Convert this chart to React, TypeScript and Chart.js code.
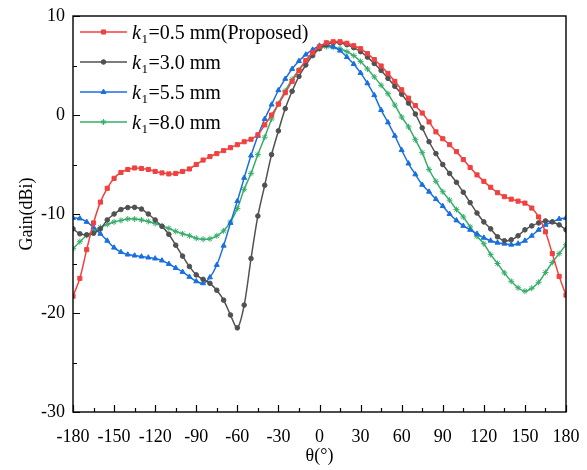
import React, { useEffect, useRef } from 'react';
import { Chart, registerables } from 'chart.js';
import { drawPoint } from 'chart.js/helpers';

Chart.register(...registerables);

const FONT = '"Liberation Serif", "Times New Roman", serif';

const ANGLES = [
  -180, -175, -170, -165, -160, -155, -150, -145, -140, -135,
  -130, -125, -120, -115, -110, -105, -100, -95, -90, -85,
  -80, -75, -70, -65, -60, -55, -50, -45, -40, -35,
  -30, -25, -20, -15, -10, -5, 0, 5, 10, 15,
  20, 25, 30, 35, 40, 45, 50, 55, 60, 65,
  70, 75, 80, 85, 90, 95, 100, 105, 110, 115,
  120, 125, 130, 135, 140, 145, 150, 155, 160, 165,
  170, 175, 180,
];

const GAIN_K05 = [
  -18.3, -16.5, -13.6, -10.9, -8.8, -7.4, -6.4, -5.8, -5.5, -5.35,
  -5.4, -5.5, -5.7, -5.85, -5.95, -5.9, -5.7, -5.45, -5.0, -4.55,
  -4.2, -3.9, -3.6, -3.3, -3.0, -2.7, -2.45, -2.0, -1.0, 0.0,
  1.1, 2.25, 3.4, 4.5, 5.5, 6.3, 6.9, 7.3, 7.4, 7.4,
  7.25, 7.0, 6.7, 6.2, 5.6, 4.95, 4.2, 3.4, 2.55, 1.7,
  0.95, 0.2, -0.7, -1.7, -2.4, -3.0, -3.7, -4.5, -5.3, -6.05,
  -6.7, -7.3, -7.85, -8.25, -8.5, -8.7, -8.9, -9.4, -10.3, -11.8,
  -14.0, -16.3, -18.2,
];

const GAIN_K30 = [
  -11.5, -12.0, -12.1, -11.95, -11.5, -10.6, -10.0, -9.55, -9.35, -9.33,
  -9.5, -10.0, -10.6, -11.25, -12.05, -13.15, -14.25, -15.3, -16.15, -16.6,
  -17.0, -17.7, -18.7, -20.2, -21.5, -19.2, -14.5, -10.2, -7.1, -4.0,
  -1.6, 0.65, 2.4, 3.9, 5.05, 6.0, 6.7, 7.1, 7.3, 7.3,
  7.1, 6.8, 6.4, 5.85, 5.2, 4.5, 3.7, 2.9, 2.1, 1.2,
  0.1, -1.3, -2.7, -3.9, -5.0, -5.9, -6.8, -7.8, -8.85, -9.9,
  -10.8, -11.5, -12.3, -12.7, -12.6, -12.2, -11.6, -11.2, -10.9, -10.7,
  -10.8, -11.1, -11.6,
];

const GAIN_K55 = [
  -10.4, -10.45, -10.8, -11.35, -12.0, -12.7, -13.4, -13.85, -14.1, -14.2,
  -14.3, -14.4, -14.5, -14.7, -15.05, -15.45, -15.85, -16.35, -16.8, -17.0,
  -16.4, -15.15, -13.2, -10.9, -8.7, -6.35, -4.1, -2.1, -0.4, 1.05,
  2.5, 3.65, 4.65, 5.45, 6.1, 6.6, 7.0, 7.05, 6.9, 6.5,
  5.85, 5.15, 4.25, 3.2, 2.0, 0.5, -0.75, -2.1, -3.55, -4.9,
  -6.0, -7.05, -7.75, -8.5, -9.2, -10.0, -10.65, -11.2, -11.6, -12.0,
  -12.4, -12.7, -12.9, -13.0, -13.1, -13.0, -12.7, -12.2, -11.6, -11.1,
  -10.8, -10.5, -10.4,
];

const GAIN_K80 = [
  -13.5, -12.8, -12.15, -11.7, -11.35, -11.05, -10.8, -10.65, -10.5, -10.5,
  -10.6, -10.75, -10.95, -11.2, -11.45, -11.75, -12.0, -12.2, -12.45, -12.55,
  -12.5, -12.2, -11.7, -10.8, -9.45, -7.5, -5.9, -4.0, -2.25, -0.4,
  1.15, 2.45, 3.6, 4.55, 5.45, 6.15, 6.75, 6.9, 6.85, 6.7,
  6.4, 6.0, 5.4, 4.65, 3.85, 3.0, 2.15, 1.0, -0.2, -1.2,
  -2.5, -3.8, -5.5, -6.7, -7.75, -8.6, -9.55, -10.3, -11.3, -12.25,
  -13.0, -14.1, -15.0, -15.95, -16.8, -17.45, -17.8, -17.5, -16.9, -15.9,
  -14.9, -14.0, -13.1,
];

const X_TICKS = [-180, -150, -120, -90, -60, -30, 0, 30, 60, 90, 120, 150, 180];
const Y_TICKS = [-30, -20, -10, 0, 10];

const LEGEND_VALUES = ['=0.5 mm(Proposed)', '=3.0 mm', '=5.5 mm', '=8.0 mm'];
const SERIES = [GAIN_K05, GAIN_K30, GAIN_K55, GAIN_K80];
const COLORS = ['#F14040', '#515151', '#1A6FDF', '#37AD6B'];
const MARKERS = ['rect', 'circle', 'triangle', 'star'];
const MARKER_R = [2.9, 2.3, 2.9, 3.0];

const framePlugin = {
  id: 'frame',
  afterDraw(chart: any) {
    const { ctx, chartArea, scales } = chart;
    const { left, right, top, bottom } = chartArea;
    ctx.save();
    ctx.strokeStyle = '#000';
    ctx.lineWidth = 1.4;
    ctx.strokeRect(left, top, right - left, bottom - top);
    ctx.lineWidth = 1.2;
    ctx.beginPath();
    for (let v = -180; v <= 180; v += 15) {
      const px = Math.round(scales.x.getPixelForValue(v)) + 0.5;
      const len = v % 30 === 0 ? 7 : 4;
      ctx.moveTo(px, bottom);
      ctx.lineTo(px, bottom - len);
    }
    for (let v = -30; v <= 10; v += 5) {
      const py = Math.round(scales.y.getPixelForValue(v)) + 0.5;
      const len = v % 10 === 0 ? 7 : 4;
      ctx.moveTo(left, py);
      ctx.lineTo(left + len, py);
    }
    ctx.stroke();
    ctx.restore();
  },
};

const legendPlugin = {
  id: 'customLegend',
  afterDatasetsDraw(chart: any) {
    const { ctx } = chart;
    ctx.save();
    const x0 = 80;
    const x1 = 127;
    const rowY = [32, 62, 92, 122];
    LEGEND_VALUES.forEach((label, i) => {
      const y = rowY[i];
      ctx.strokeStyle = COLORS[i];
      ctx.fillStyle = COLORS[i];
      ctx.lineWidth = 1.7;
      ctx.beginPath();
      ctx.moveTo(x0, y);
      ctx.lineTo(x1, y);
      ctx.stroke();
      ctx.lineWidth = 1;
      drawPoint(ctx, { pointStyle: MARKERS[i], radius: MARKER_R[i], rotation: 0, borderWidth: 1 } as any, (x0 + x1) / 2, y);
      ctx.fillStyle = '#000';
      ctx.textBaseline = 'alphabetic';
      ctx.textAlign = 'left';
      let tx = 132;
      const base = y + 7;
      ctx.font = `italic 20px ${FONT}`;
      ctx.fillText('k', tx, base);
      tx += ctx.measureText('k').width + 0.5;
      ctx.font = `13px ${FONT}`;
      ctx.fillText('1', tx, base + 4);
      tx += ctx.measureText('1').width + 0.5;
      ctx.font = `20px ${FONT}`;
      ctx.fillText(label, tx, base);
    });
    ctx.restore();
  },
};

export default function App() {
  const ref = useRef<HTMLCanvasElement>(null);
  useEffect(() => {
    const canvas = ref.current;
    if (!canvas) return;
    const datasets = SERIES.map((vals, i) => ({
      label: LEGEND_VALUES[i],
      data: ANGLES.map((a, j) => ({ x: a, y: vals[j] })),
      borderColor: COLORS[i],
      backgroundColor: COLORS[i],
      pointBackgroundColor: COLORS[i],
      pointBorderColor: COLORS[i],
      pointStyle: MARKERS[i],
      pointRadius: MARKER_R[i],
      pointBorderWidth: 1,
      borderWidth: 1.5,
      tension: 0.3,
      fill: false,
    }));
    const chart = new Chart(canvas, {
      type: 'line',
      data: { datasets },
      options: {
        responsive: false,
        animation: false,
        devicePixelRatio: 1,
        layout: { padding: { top: 16, right: 21, left: 0, bottom: 0 } },
        plugins: { legend: { display: false }, tooltip: { enabled: false } },
        scales: {
          x: {
            type: 'linear',
            min: -180,
            max: 180,
            afterBuildTicks: (s: any) => {
              s.ticks = X_TICKS.map((v) => ({ value: v }));
            },
            afterFit: (s: any) => {
              s.height = 58;
              s.paddingLeft = 0;
              s.paddingRight = 0;
            },
            grid: { display: false, drawTicks: false },
            border: { display: false },
            ticks: {
              padding: 14,
              color: '#000',
              font: { family: FONT, size: 18 },
              maxRotation: 0,
              autoSkip: false,
            },
            title: {
              display: true,
              text: 'θ(°)',
              color: '#000',
              font: { family: FONT, size: 18 },
              padding: { top: 0, bottom: 3 },
            },
          },
          y: {
            type: 'linear',
            min: -30,
            max: 10,
            afterBuildTicks: (s: any) => {
              s.ticks = Y_TICKS.map((v) => ({ value: v }));
            },
            afterFit: (s: any) => {
              s.width = 73;
              s.paddingTop = 0;
              s.paddingBottom = 0;
            },
            grid: { display: false, drawTicks: false },
            border: { display: false },
            ticks: {
              padding: 8,
              color: '#000',
              font: { family: FONT, size: 18 },
              autoSkip: false,
            },
            title: {
              display: true,
              text: 'Gain(dBi)',
              color: '#000',
              font: { family: FONT, size: 18 },
              padding: { top: 16, bottom: 0 },
            },
          },
        },
      },
      plugins: [framePlugin, legendPlugin],
    } as any);
    return () => chart.destroy();
  }, []);
  return (
    <div style={{ position: 'absolute', left: 0, top: 0, width: 587, height: 470, background: '#fff' }}>
      <canvas ref={ref} width={587} height={470} style={{ width: 587, height: 470, display: 'block' }} />
    </div>
  );
}
